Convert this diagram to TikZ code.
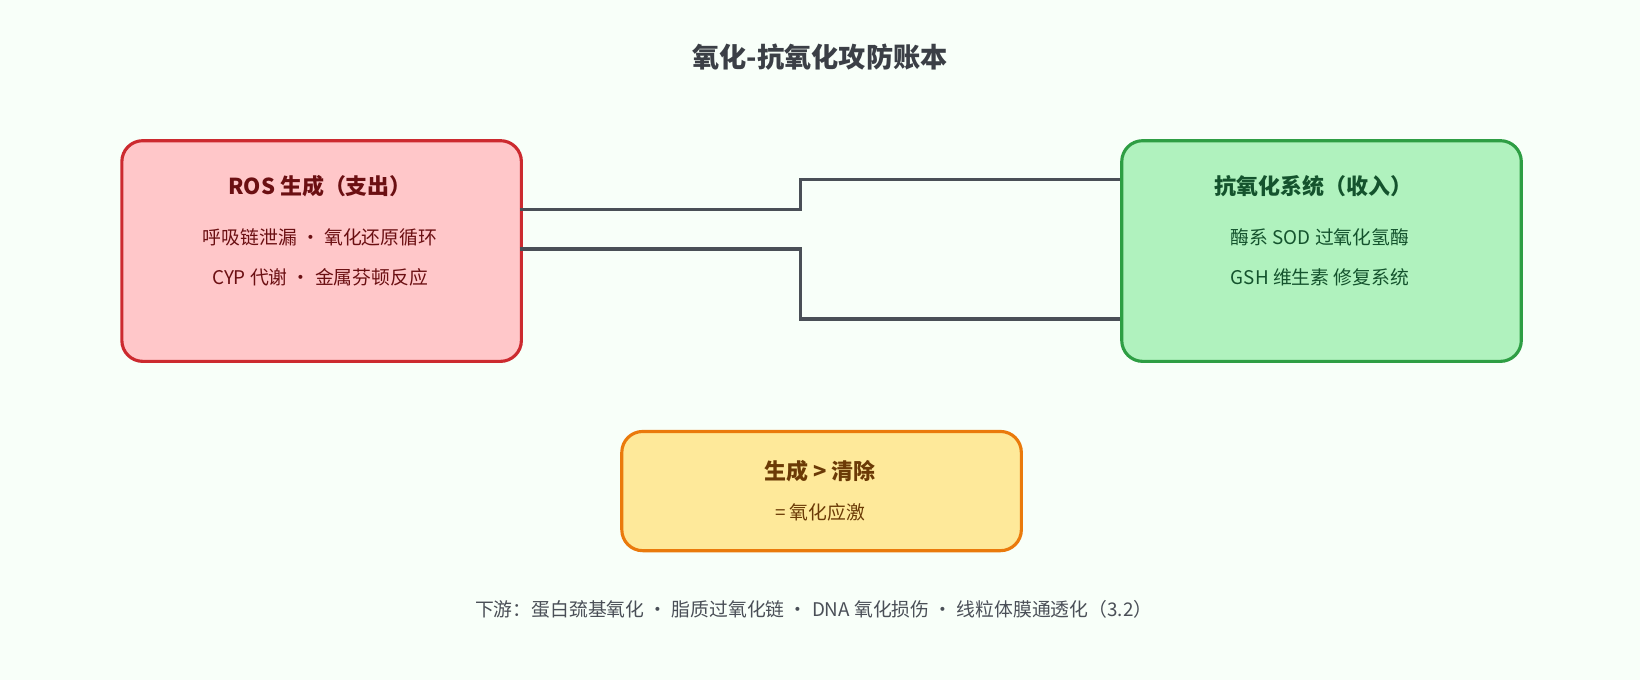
\documentclass[tikz,border=0pt]{standalone}
\usepackage{fontspec}
\setmainfont{Noto Sans CJK SC}
\begin{document}
\begin{tikzpicture}[x=0.5pt,y=-0.5pt,
  box/.style={draw,line width=1.5pt,rounded corners=10pt,minimum width=191pt,anchor=north west},
  conn/.style={draw=lineC,line width=1.5pt},
  t/.style={font=\fontsize{9}{11}\selectfont},
  h/.style={font=\fontsize{10.5}{12}\selectfont\bfseries}]
\definecolor{bg}{HTML}{F8FFF9}
\definecolor{lineC}{HTML}{4A4F57}
\definecolor{rf}{HTML}{FFC7C9}\definecolor{rd}{HTML}{CC2A2F}\definecolor{rt}{HTML}{6B0F12}
\definecolor{gf}{HTML}{B0F2BE}\definecolor{gd}{HTML}{2E9E44}\definecolor{gt}{HTML}{14532D}
\definecolor{yf}{HTML}{FEE99A}\definecolor{yd}{HTML}{EA7A0C}\definecolor{yt}{HTML}{6B3A06}
\fill[bg] (0,0) rectangle (1568,650);
\useasboundingbox (0,0) rectangle (1568,650);
\node[font=\fontsize{13}{15}\selectfont\bfseries,text=lineC!80!black] (title) at (784,55) {氧化-抗氧化攻防账本};
\node[box,fill=rf,draw=rd,minimum height=105.5pt] (ros) at (115,133) {};
\node[box,fill=gf,draw=gd,minimum height=105.5pt] (anti) at (1071,133) {};
\node[box,fill=yf,draw=yd,minimum height=57pt] (res) at (593,411) {};
\node[h,text=rt] (rosh) at (306,178) {ROS 生成（支出）};
\node[t,text=rt] (ros1) at (306,227) {呼吸链泄漏 · 氧化还原循环};
\node[t,text=rt] (ros2) at (306,265) {CYP 代谢 · 金属芬顿反应};
\node[h,text=gt] (antih) at (1256,178) {抗氧化系统（收入）};
\node[t,text=gt] (anti1) at (1262,227) {酶系 SOD 过氧化氢酶};
\node[t,text=gt] (anti2) at (1262,265) {GSH 维生素 修复系统};
\node[h,text=yt] (resh) at (784,450) {生成 > 清除};
\node[t,text=yt] (res1) at (784,490) {= 氧化应激};
\node[t,text=lineC] (foot) at (778,583) {下游：蛋白巯基氧化 · 脂质过氧化链 · DNA 氧化损伤 · 线粒体膜通透化（3.2）};
\coordinate (a1) at (497,200); \coordinate (a2) at (497,238);
\coordinate (b1) at (1071,172); \coordinate (b2) at (1071,305);
\draw[conn] (a1) -- (765,200) |- (b1);
\draw[conn] (a2) -- (765,238) |- (b2);
\end{tikzpicture}
\end{document}
